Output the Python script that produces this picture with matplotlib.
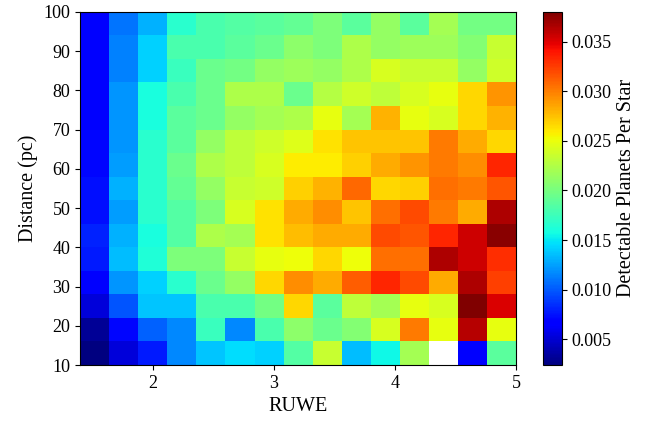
import numpy as np
import matplotlib
matplotlib.use('Agg')
import matplotlib.pyplot as plt

plt.rcParams['font.family'] = ['Liberation Serif', 'DejaVu Serif']
plt.rcParams['font.size'] = 13
plt.rcParams['axes.labelsize'] = 14.5

# bin edges
ruwe_edges = np.linspace(1.4, 5.0, 16)
dist_edges = np.linspace(10, 100, 16)

# detectable planets per star, rows go from 10 pc upward
nan = np.nan
d10 = [0.0024, 0.0052, 0.0077, 0.0117, 0.0138, 0.0145, 0.0141, 0.0184, 0.0234, 0.0134, 0.0156, 0.0220, nan, 0.0067, 0.0188]
d16 = [0.0031, 0.0070, 0.0102, 0.0117, 0.0174, 0.0117, 0.0181, 0.0209, 0.0195, 0.0206, 0.0241, 0.0302, 0.0248, 0.0362, 0.0248]
d22 = [0.0052, 0.0099, 0.0138, 0.0138, 0.0181, 0.0181, 0.0198, 0.0266, 0.0188, 0.0230, 0.0220, 0.0248, 0.0241, 0.0380, 0.0352]
d28 = [0.0067, 0.0120, 0.0141, 0.0166, 0.0195, 0.0213, 0.0266, 0.0295, 0.0284, 0.0312, 0.0334, 0.0319, 0.0284, 0.0366, 0.0323]
d34 = [0.0077, 0.0134, 0.0163, 0.0202, 0.0202, 0.0234, 0.0248, 0.0252, 0.0266, 0.0252, 0.0305, 0.0305, 0.0366, 0.0355, 0.0330]
d40 = [0.0081, 0.0131, 0.0159, 0.0184, 0.0223, 0.0220, 0.0263, 0.0277, 0.0284, 0.0284, 0.0319, 0.0316, 0.0334, 0.0355, 0.0376]
d46 = [0.0074, 0.0124, 0.0166, 0.0184, 0.0202, 0.0241, 0.0263, 0.0284, 0.0295, 0.0273, 0.0305, 0.0319, 0.0302, 0.0284, 0.0366]
d52 = [0.0074, 0.0131, 0.0166, 0.0191, 0.0213, 0.0234, 0.0238, 0.0270, 0.0280, 0.0309, 0.0266, 0.0270, 0.0305, 0.0302, 0.0316]
d58 = [0.0070, 0.0124, 0.0166, 0.0195, 0.0223, 0.0230, 0.0241, 0.0259, 0.0259, 0.0270, 0.0284, 0.0291, 0.0302, 0.0295, 0.0334]
d64 = [0.0070, 0.0120, 0.0166, 0.0188, 0.0213, 0.0230, 0.0238, 0.0245, 0.0263, 0.0273, 0.0273, 0.0273, 0.0302, 0.0284, 0.0266]
d70 = [0.0067, 0.0120, 0.0159, 0.0188, 0.0195, 0.0213, 0.0220, 0.0223, 0.0248, 0.0220, 0.0280, 0.0248, 0.0241, 0.0266, 0.0280]
d76 = [0.0067, 0.0120, 0.0159, 0.0181, 0.0195, 0.0223, 0.0223, 0.0195, 0.0227, 0.0238, 0.0230, 0.0241, 0.0248, 0.0266, 0.0291]
d82 = [0.0067, 0.0113, 0.0141, 0.0174, 0.0195, 0.0198, 0.0213, 0.0216, 0.0213, 0.0223, 0.0241, 0.0234, 0.0234, 0.0213, 0.0238]
d88 = [0.0067, 0.0113, 0.0141, 0.0181, 0.0181, 0.0188, 0.0195, 0.0209, 0.0202, 0.0223, 0.0213, 0.0216, 0.0216, 0.0206, 0.0234]
d94 = [0.0067, 0.0109, 0.0131, 0.0166, 0.0181, 0.0184, 0.0188, 0.0191, 0.0202, 0.0188, 0.0213, 0.0188, 0.0220, 0.0198, 0.0198]

grid = np.ma.masked_invalid(np.array([d10, d16, d22, d28, d34, d40, d46, d52,
                                      d58, d64, d70, d76, d82, d88, d94]))

fig = plt.figure(figsize=(6.56, 4.22), dpi=100)
ax = fig.add_axes([0.122, 0.135, 0.665, 0.837])
cax = fig.add_axes([0.828, 0.135, 0.028, 0.837])

mesh = ax.pcolormesh(ruwe_edges, dist_edges, grid, cmap='jet')
ax.set_xlim(1.4, 5)
ax.set_ylim(10, 100)
ax.set_xticks([2, 3, 4, 5])
ax.set_yticks(np.arange(10, 101, 10))
ax.set_xlabel('RUWE')
ax.set_ylabel('Distance (pc)')

cb = fig.colorbar(mesh, cax=cax)
cb.set_ticks([0.005, 0.010, 0.015, 0.020, 0.025, 0.030, 0.035])
cb.set_label('Detectable Planets Per Star', fontsize=14.5)

plt.savefig('out.png', dpi=100)
plt.close()
